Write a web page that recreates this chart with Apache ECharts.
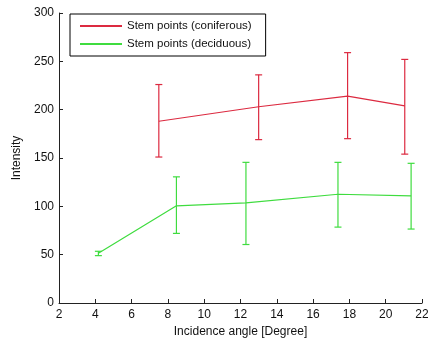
<!DOCTYPE html>
<html>
<head>
<meta charset="utf-8">
<script src="https://cdn.jsdelivr.net/npm/echarts@6/dist/echarts.min.js"></script>
<style>
  html, body { margin: 0; padding: 0; background: #fff; }
  #chart { width: 428px; height: 340px; }
</style>
</head>
<body>
<div id="chart"></div>
<script>
// incidence angle, mean intensity, error bar low/high
const coniferousAngle = [7.5, 13.0, 17.9, 21.05];
const coniferousMean = [188, 203, 214, 204];
const coniferousLow = [151, 169, 170, 154];
const coniferousHigh = [226, 236, 259, 252];

const deciduousAngle = [4.17, 8.47, 12.3, 17.37, 21.4];
const deciduousMean = [51.5, 100.5, 103.5, 112.5, 110.8];
const deciduousLow = [49, 72, 60.5, 78.5, 76.5];
const deciduousHigh = [53.5, 130.5, 145.5, 145.5, 144.5];

const xTicks = [2, 22, 2]; // min, max, step
const yTicks = [0, 300, 50];

const RED = '#dc2a40';
const GREEN = '#3fdc3f';

function lineData(xs, ys) {
  return xs.map((x, i) => [x, ys[i]]);
}
function errData(xs, lo, hi) {
  return xs.map((x, i) => [x, lo[i], hi[i]]);
}

function errorBarSeries(data, color) {
  return {
    type: 'custom',
    data: data,
    z: 3,
    renderItem: function (params, api) {
      const lo = api.coord([api.value(0), api.value(1)]);
      const hi = api.coord([api.value(0), api.value(2)]);
      const w = 3.5;
      const style = { stroke: color, lineWidth: 1.2 };
      return {
        type: 'group',
        children: [
          { type: 'line', shape: { x1: lo[0], y1: lo[1], x2: hi[0], y2: hi[1] }, style: style },
          { type: 'line', shape: { x1: lo[0] - w, y1: lo[1], x2: lo[0] + w, y2: lo[1] }, style: style },
          { type: 'line', shape: { x1: hi[0] - w, y1: hi[1], x2: hi[0] + w, y2: hi[1] }, style: style }
        ]
      };
    }
  };
}

const chart = echarts.init(document.getElementById('chart'), null, { renderer: 'canvas' });
const font = 'Liberation Sans, Arial, sans-serif';

chart.setOption({
  animation: false,
  textStyle: { fontFamily: font },
  grid: { left: 59, right: 6, top: 13, bottom: 37, outerBoundsMode: 'none' },
  legend: {
    data: ['Stem points (coniferous)', 'Stem points (deciduous)'],
    orient: 'vertical',
    left: 70,
    top: 14,
    padding: [6, 14, 6, 10],
    itemGap: 6,
    itemWidth: 42,
    itemHeight: 2,
    icon: 'rect',
    borderColor: '#000',
    borderWidth: 1,
    backgroundColor: '#fff',
    textStyle: { fontSize: 11.5, color: '#111', fontFamily: font }
  },
  xAxis: {
    type: 'value',
    min: xTicks[0],
    max: xTicks[1],
    interval: xTicks[2],
    name: 'Incidence angle [Degree]',
    nameLocation: 'middle',
    nameGap: 23,
    nameTextStyle: { fontSize: 12, color: '#111' },
    axisLine: { lineStyle: { color: '#222', width: 1 } },
    axisTick: { inside: true, length: 4, lineStyle: { color: '#222' } },
    axisLabel: { fontSize: 12, color: '#111', margin: 6 },
    splitLine: { show: false }
  },
  yAxis: {
    type: 'value',
    min: yTicks[0],
    max: yTicks[1],
    interval: yTicks[2],
    name: 'Intensity',
    nameLocation: 'middle',
    nameGap: 33,
    nameTextStyle: { fontSize: 12, color: '#111' },
    axisLine: { show: true, lineStyle: { color: '#222', width: 1 } },
    axisTick: { show: true, inside: true, length: 4, lineStyle: { color: '#222' } },
    axisLabel: { fontSize: 12, color: '#111', margin: 5 },
    splitLine: { show: false }
  },
  series: [
    {
      name: 'Stem points (coniferous)',
      type: 'line',
      data: lineData(coniferousAngle, coniferousMean),
      symbol: 'none',
      lineStyle: { color: RED, width: 1.2 },
      itemStyle: { color: RED }
    },
    {
      name: 'Stem points (deciduous)',
      type: 'line',
      data: lineData(deciduousAngle, deciduousMean),
      symbol: 'none',
      lineStyle: { color: GREEN, width: 1.2 },
      itemStyle: { color: GREEN }
    },
    errorBarSeries(errData(coniferousAngle, coniferousLow, coniferousHigh), RED),
    errorBarSeries(errData(deciduousAngle, deciduousLow, deciduousHigh), GREEN)
  ]
});
</script>
</body>
</html>
